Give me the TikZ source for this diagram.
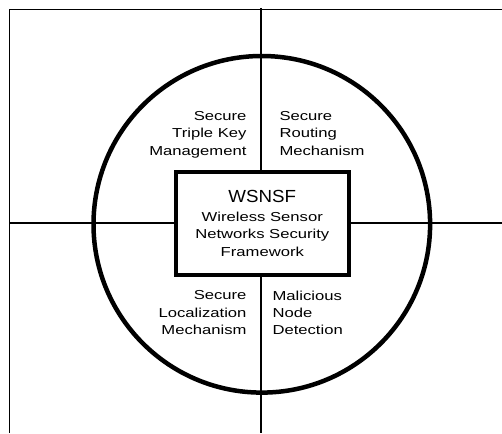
\documentclass[tikz,border=0pt]{standalone}
\usepackage{fontspec}
\setmainfont{Liberation Sans}[FakeStretch=1.28]
\newfontfamily\titlefont{Liberation Sans}[FakeStretch=1.07]

\begin{document}
\begin{tikzpicture}[x=1pt,y=-1pt,
  frameline/.style={line width=1.1pt},
  axisline/.style={line width=2.2pt},
  ring/.style={circle, draw, line width=4.5pt, minimum size=336.6pt, inner sep=0pt},
  corebox/.style={draw, fill=white, line width=4pt, minimum width=172.7pt,
    minimum height=103pt, inner sep=0pt, align=center,
    font=\fontsize{13}{17.3}\selectfont},
  labelR/.style={inner sep=0pt, align=right, anchor=north east,
    font=\fontsize{13}{17.3}\selectfont},
  labelL/.style={inner sep=0pt, align=left, anchor=north west,
    font=\fontsize{13}{17.3}\selectfont}]

  % page area
  \useasboundingbox (0,0) rectangle (502,433);
  \fill[white] (0,0) rectangle (502,433);

  % open outer frame
  \coordinate (frameTR) at (502,9.7);
  \coordinate (frameTL) at (9.3,9.7);
  \coordinate (frameBL) at (9.3,433);
  \draw[frameline] (frameTR) -- (frameTL) -- (frameBL);

  % quadrant axes
  \coordinate (axisN) at (261.2,8);
  \coordinate (axisS) at (261.2,433);
  \coordinate (axisW) at (9.3,222.7);
  \coordinate (axisE) at (502,222.7);
  \draw[axisline] (axisN) -- (axisS);
  \draw[axisline] (axisW) -- (axisE);

  % outer circle
  \node[ring] (ring) at (261.8,224.3) {};

  % central framework box
  \node[corebox] (core) at (262.3,223.5)
    {{\titlefont\fontsize{17.5}{19}\selectfont WSNSF}\\[1.6pt]
     Wireless Sensor\\Networks Security\\Framework};

  % quadrant labels
  \node[labelR] (keymgmt) at (246.7,111.2) {Secure\\Triple Key\\Management};
  \node[labelL] (routing) at (279.3,111.2) {Secure\\Routing\\Mechanism};
  \node[labelR] (localize) at (246.7,290.6) {Secure\\Localization\\Mechanism};
  \node[labelL] (malicious) at (272.3,290.6) {Malicious\\Node\\Detection};
\end{tikzpicture}
\end{document}
